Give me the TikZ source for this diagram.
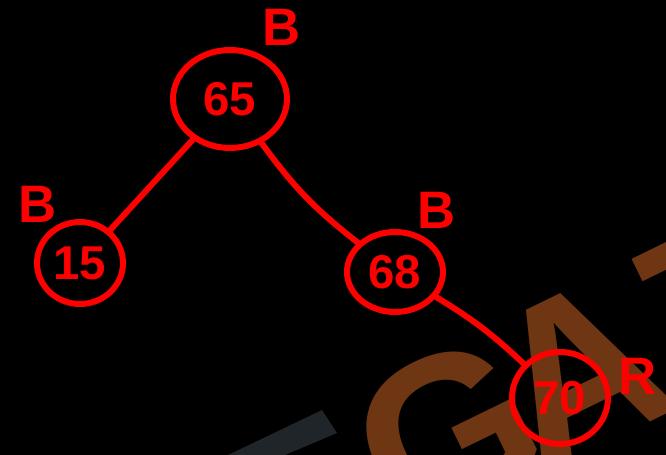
\documentclass[tikz,border=0pt]{standalone}
\usepackage{fontspec}
\setsansfont{Liberation Sans}
\usetikzlibrary{shapes.geometric,positioning}
\definecolor{penred}{RGB}{255,0,0}
\definecolor{wmbrown}{RGB}{110,54,19}
\definecolor{wmgray}{RGB}{31,37,40}
\tikzset{
  pen/.style={draw=penred, line width=3.4pt, line cap=round, line join=round},
  keynode/.style={pen, ellipse, text=penred, inner sep=0pt,
    font=\sffamily\bfseries\fontsize{27}{27}\selectfont},
  colourtag/.style={text=penred, font=\sffamily\bfseries\fontsize{30}{30}\selectfont}
}
\begin{document}
\begin{tikzpicture}[x=0.02cm,y=-0.02cm]
  \fill[black] (0,0) rectangle (666,455);
  \useasboundingbox (0,0) rectangle (666,455);
  \clip (0,0) rectangle (666,455);
  % watermark
  \fill[wmgray] (228,455) -- (322,410) -- (337,433) -- (285,455) -- cycle;
  \node[wmbrown, rotate=26, anchor=base west,
    font=\sffamily\bfseries\fontsize{128}{128}\selectfont] (mark) at (398,545)
    {G\kern-14pt A\kern8pt T};
  % tree
  \node[keynode, minimum width=2.28cm, minimum height=1.96cm] (n65) at (230,99) {65};
  \node[keynode, minimum width=1.72cm, minimum height=1.64cm] (n15) at (80,263) {15};
  \node[keynode, minimum width=1.92cm, minimum height=1.6cm] (n68) at (395,272) {68};
  \node[keynode, minimum width=1.92cm, minimum height=1.84cm] (n70) at (560,398) {70};
  \draw[pen] (n65) -- (n15);
  \draw[pen] (n65) to[bend right=8] (n68);
  \draw[pen] (n68) to[bend left=6] (n70);
  % colours
  \node[colourtag] (c65) at (282,27) {B};
  \node[colourtag] (c15) at (38,204) {B};
  \node[colourtag] (c68) at (437,210) {B};
  \node[colourtag] (c70) at (638,376) {R};
\end{tikzpicture}
\end{document}
